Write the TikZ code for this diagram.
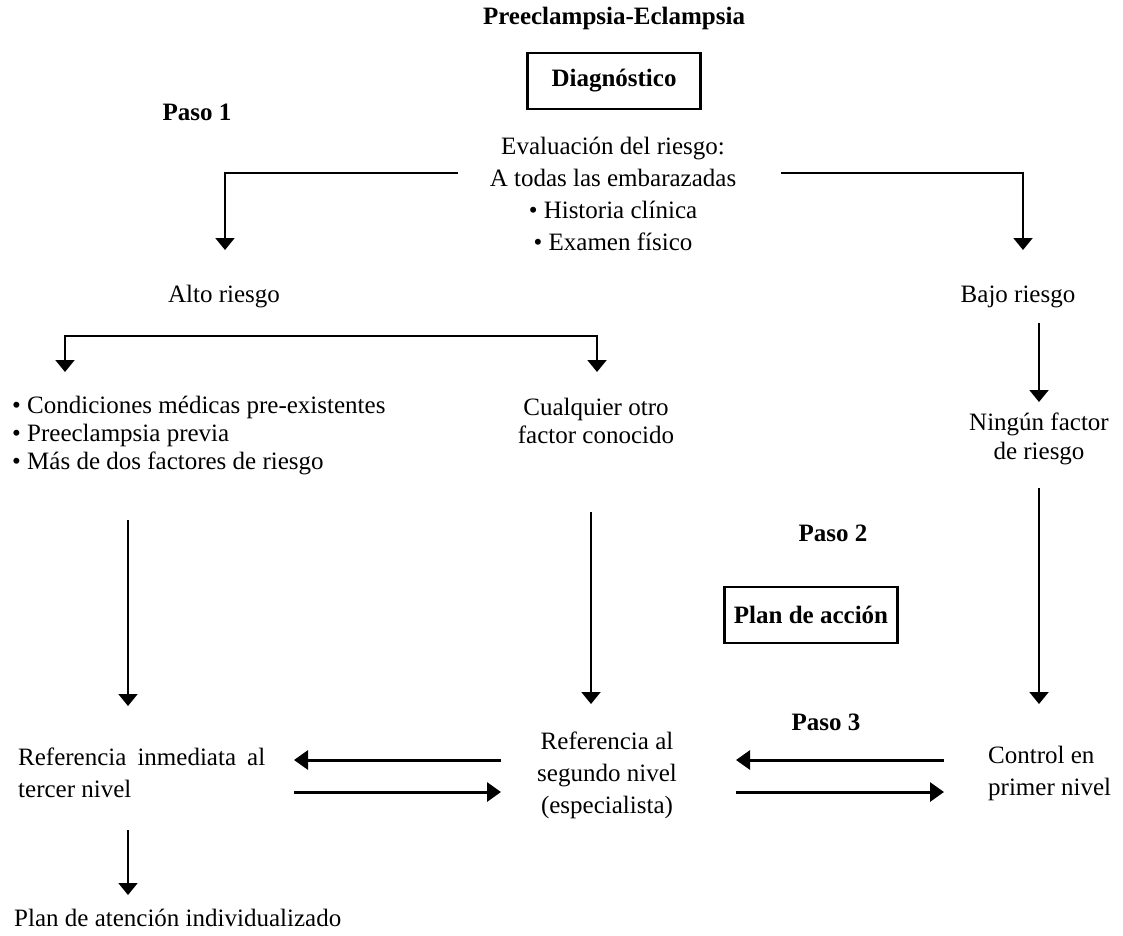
\documentclass[tikz,border=0pt]{standalone}
\usepackage{fontspec}
\setmainfont{Liberation Serif}
\usetikzlibrary{arrows.meta}
\begin{document}
\begin{tikzpicture}[x=1pt,y=-1pt,
  font=\fontsize{25}{32}\selectfont,
  txt/.style={inner sep=0pt, align=center},
  ltxt/.style={inner sep=0pt, align=left, anchor=west},
  bold/.style={inner sep=0pt, font=\fontsize{25}{32}\selectfont\bfseries},
  hdbox/.style={draw, line width=2.5pt, inner sep=0pt, minimum width=173pt, minimum height=56pt, font=\fontsize{25}{32}\selectfont\bfseries},
  conn/.style={line width=2pt, -{Triangle[width=19pt,length=12pt]}},
  bothconn/.style={line width=2pt, {Triangle[width=19pt,length=12pt]}-{Triangle[width=19pt,length=12pt]}},
  hconn/.style={line width=3pt, -{Triangle[width=19pt,length=14pt]}}]
\useasboundingbox (0,0) rectangle (1123,935);
% texts
\node[bold] (title) at (614,18) {Preeclampsia-Eclampsia};
\node[hdbox] (diag) at (614,81) {Diagnóstico};
\node[bold] (paso1) at (197,112) {Paso 1};
\node[txt] (eval) at (613,194) {Evaluación del riesgo:\\A todas las embarazadas\\• Historia clínica\\• Examen físico};
\node[txt] (alto) at (224,297) {Alto riesgo};
\node[txt] (bajo) at (1018,297) {Bajo riesgo};
\node[ltxt, font=\fontsize{25}{28}\selectfont] (cond) at (12,435) {• Condiciones médicas pre-existentes\\• Preeclampsia previa\\• Más de dos factores de riesgo};
\node[txt, font=\fontsize{25}{28}\selectfont] (otro) at (596,421) {Cualquier otro\\factor conocido};
\node[txt, font=\fontsize{25}{29}\selectfont] (ningun) at (1039,439) {Ningún factor\\de riesgo};
\node[bold] (paso2) at (833,533) {Paso 2};
\node[hdbox] (plan) at (811,615) {Plan de acción};
\node[bold] (paso3) at (826,722) {Paso 3};
\node[ltxt] (tercer) at (18,773) {\makebox[247pt][s]{Referencia inmediata al}\\tercer nivel};
\node[txt] (segundo) at (607,775) {Referencia al\\segundo nivel\\(especialista)};
\node[ltxt] (primer) at (988,773) {Control en\\primer nivel};
\node[ltxt] (indiv) at (14,918) {Plan de atención individualizado};
% connector endpoints
\coordinate (evL) at (458,173);
\coordinate (evR) at (781,173);
\coordinate (altoT) at (225,250);
\coordinate (bajoT) at (1023,250);
\coordinate (bkL) at (65,372);
\coordinate (bkM) at (597,336);
\coordinate (bkR) at (597,372);
\coordinate (bajoB) at (1039,323);
\coordinate (ninT) at (1039,402);
\coordinate (condB) at (128,520);
\coordinate (tercerT) at (128,706);
\coordinate (otroB) at (591,512);
\coordinate (segT) at (591,704);
\coordinate (ninB) at (1039,488);
\coordinate (primT) at (1039,704);
\coordinate (tL1) at (294,760);
\coordinate (sL1) at (501,760);
\coordinate (tL2) at (294,792);
\coordinate (sL2) at (501,792);
\coordinate (sR1) at (736,760);
\coordinate (pR1) at (944,760);
\coordinate (sR2) at (736,792);
\coordinate (pR2) at (944,792);
\coordinate (tercerB) at (128,830);
\coordinate (indivT) at (128,895);
% connectors
\draw[conn] (evL) -| (altoT);
\draw[conn] (evR) -| (bajoT);
\draw[bothconn] (bkL) |- (bkM) -- (bkR);
\draw[conn] (bajoB) -- (ninT);
\draw[conn] (condB) -- (tercerT);
\draw[conn] (otroB) -- (segT);
\draw[conn] (ninB) -- (primT);
\draw[hconn] (sL1) -- (tL1);
\draw[hconn] (tL2) -- (sL2);
\draw[hconn] (pR1) -- (sR1);
\draw[hconn] (sR2) -- (pR2);
\draw[conn] (tercerB) -- (indivT);
\end{tikzpicture}
\end{document}
